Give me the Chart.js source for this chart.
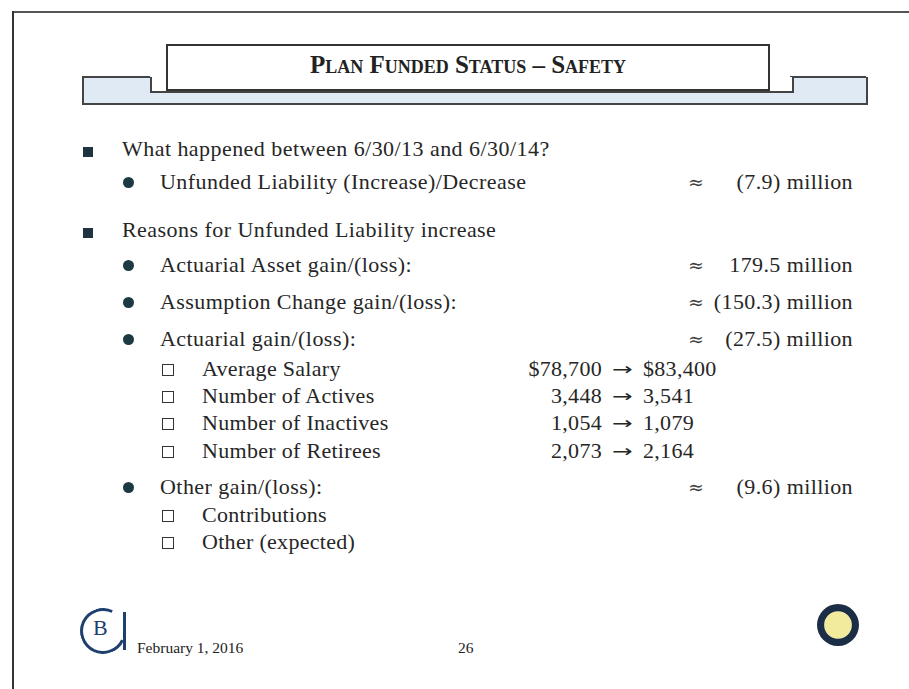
<!DOCTYPE html>
<html>
<head>
<meta charset="utf-8">
<script src="https://cdn.jsdelivr.net/npm/chart.js@4.4.1/dist/chart.umd.min.js"></script>
<style>
  html, body { margin: 0; padding: 0; background: #fff; }
  body { width: 909px; height: 689px; position: relative; overflow: hidden;
         font-family: "Liberation Serif", "DejaVu Serif", serif; color: #262626; }
  .abs { position: absolute; white-space: nowrap; }
  .frameTop { position: absolute; left: 13px; top: 11px; width: 900px; height: 0; border-top: 2px solid #555; }
  .frameLeft { position: absolute; left: 12px; top: 11px; width: 0; height: 680px; border-left: 2px solid #333; }
  .band { position: absolute; left: 82px; top: 77px; width: 782px; height: 26px;
          border: 2px solid #444; border-top: none; background: #dfeaf5; }
  .bandL { position: absolute; left: 82px; top: 76px; width: 68px; height: 0; border-top: 2px solid #444; }
  .bandR { position: absolute; left: 790px; top: 76px; width: 76px; height: 0; border-top: 2px solid #444; }
  .titleBoxOuter { position: absolute; left: 150px; top: 77px; width: 640px; height: 14px;
              border-left: 2px solid #444; border-right: 2px solid #444; border-bottom: 2px solid #444; background:#fff; }
  .titleBox { position: absolute; left: 166px; top: 44px; width: 600px; height: 43px;
              border: 2px solid #333; background: #fff; }
  .title { position: absolute; left: 166px; top: 51px; width: 604px; text-align: center;
           font-size: 25px; font-weight: bold; font-variant: small-caps; color: #222; }
  .sq { position: absolute; width: 10px; height: 10px; background: #1f3440; }
  .dot { position: absolute; width: 11px; height: 11px; border-radius: 50%; background: #1d3a44; }
  .box { position: absolute; width: 12px; height: 12px; border: 1.6px solid #333; box-sizing: border-box; }
  .t { font-size: 22px; letter-spacing: 0.45px; }
  .s { font-size: 22px; letter-spacing: 0.3px; }
  .approx { font-size: 19px; color: #444; font-family: "DejaVu Serif", serif; }
  .val { font-size: 22px; letter-spacing: 0.4px; text-align: right; width: 200px; }
  .arrow { font-family: "DejaVu Sans", sans-serif; font-size: 17px; display: inline-block; transform: scaleX(1.45); transform-origin: left center; }
  .foot { font-size: 15.5px; color: #222; }
  #sealWrap { position: absolute; left: 816px; top: 603px; width: 44px; height: 44px; }
  .logo { position: absolute; left: 80px; top: 608px; width: 40px; height: 40px;
          border: 3px solid #1f3f6e; border-radius: 50%; border-right-color: transparent; transform: rotate(-20deg); }
  .logoTxt { position: absolute; left: 93px; top: 615px; font-size: 22px; color: #1f3f6e; }
  .logoBar { position: absolute; left: 123px; top: 612px; width: 3px; height: 38px; background: #1f3f6e; }
</style>
</head>
<body>
<div class="frameTop"></div>
<div class="frameLeft"></div>
<div class="band"></div>
<div class="bandL"></div>
<div class="bandR"></div>
<div class="titleBoxOuter"></div>
<div class="titleBox"></div>
<div class="title">Plan Funded Status – Safety</div>
<div id="content"></div>
<div class="logo"></div>
<div class="logoTxt">B</div>
<div class="logoBar"></div>
<div class="abs foot" style="left:137px; top:639px;">February 1, 2016</div>
<div class="abs foot" style="left:458px; top:639px;">26</div>
<div id="sealWrap"><canvas id="seal" width="44" height="44"></canvas></div>

<script>
// ---- Slide data ----
const headings = ["What happened between 6/30/13 and 6/30/14?", "Reasons for Unfunded Liability increase"];
const changeLabel = "Unfunded Liability (Increase)/Decrease";
const changeValue = "(7.9) million";
const reasonLabels = ["Actuarial Asset gain/(loss):", "Assumption Change gain/(loss):", "Actuarial gain/(loss):", "Other gain/(loss):"];
const reasonValues = ["179.5 million", "(150.3) million", "(27.5) million", "(9.6) million"];
const actuarialItems = ["Average Salary", "Number of Actives", "Number of Inactives", "Number of Retirees"];
const fromValues = ["$78,700", "3,448", "1,054", "2,073"];
const toValues = ["$83,400", "3,541", "1,079", "2,164"];
const otherItems = ["Contributions", "Other (expected)"];
const sealShares = [1];

// ---- Build layout ----
const c = document.getElementById('content');
function add(html) { c.insertAdjacentHTML('beforeend', html); }
function text(x, y, s, cls) { add(`<div class="abs ${cls}" style="left:${x}px; top:${y}px;">${s}</div>`); }
function valueRow(y, v) {
  add(`<div class="abs approx" style="left:688px; top:${y + 2}px;">≈</div>`);
  add(`<div class="abs val" style="left:653px; top:${y}px;">${v}</div>`);
}
// heading 1
add(`<div class="sq" style="left:83px; top:147px;"></div>`);
text(122, 136, headings[0], 't');
add(`<div class="dot" style="left:123px; top:177px;"></div>`);
text(160, 169, changeLabel, 't');
valueRow(169, changeValue);
// heading 2
add(`<div class="sq" style="left:83px; top:228px;"></div>`);
text(122, 217, headings[1], 't');
const reasonY = [252, 289, 326, 474];
reasonLabels.forEach((l, i) => {
  add(`<div class="dot" style="left:123px; top:${reasonY[i] + 8}px;"></div>`);
  text(160, reasonY[i], l, 't');
  valueRow(reasonY[i], reasonValues[i]);
});
const subY = [356, 383, 410, 438];
actuarialItems.forEach((l, i) => {
  add(`<div class="box" style="left:162px; top:${subY[i] + 8}px;"></div>`);
  text(202, subY[i], l, 's');
  add(`<div class="abs s" style="left:480px; top:${subY[i]}px; width:122px; text-align:right;">${fromValues[i]}</div>`);
  add(`<div class="abs" style="left:612px; top:${subY[i] + 3}px;"><span class="arrow">→</span></div>`);
  add(`<div class="abs s" style="left:643px; top:${subY[i]}px;">${toValues[i]}</div>`);
});
const otherY = [502, 529];
otherItems.forEach((l, i) => {
  add(`<div class="box" style="left:162px; top:${otherY[i] + 8}px;"></div>`);
  text(202, otherY[i], l, 's');
});

// ---- Seal drawn with Chart.js (doughnut ring + yellow centre) ----
const centreFill = {
  id: 'centreFill',
  beforeDatasetsDraw(chart) {
    const arc = chart.getDatasetMeta(0).data[0];
    if (!arc) return;
    const ctx = chart.ctx;
    ctx.save();
    ctx.beginPath();
    ctx.arc(arc.x, arc.y, arc.innerRadius, 0, Math.PI * 2);
    ctx.fillStyle = '#f2eb9c';
    ctx.fill();
    ctx.restore();
  }
};
new Chart(document.getElementById('seal'), {
  type: 'doughnut',
  data: { labels: ['Seal'], datasets: [{ data: sealShares, backgroundColor: ['#1c2e45'], borderWidth: 0 }] },
  options: {
    responsive: false, animation: false, cutout: '66%',
    plugins: { legend: { display: false }, tooltip: { enabled: false } },
    layout: { padding: 1 }
  },
  plugins: [centreFill]
});
</script>
</body>
</html>
